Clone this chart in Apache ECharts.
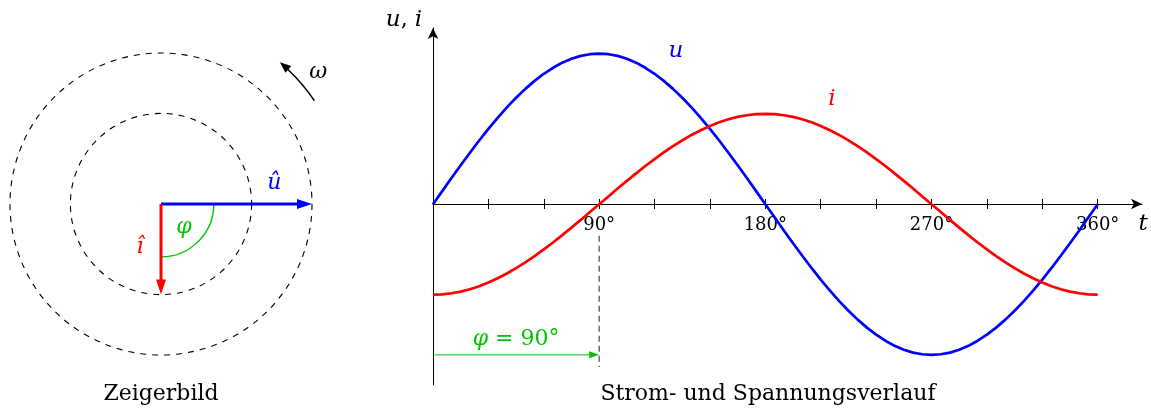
<!DOCTYPE html>
<html>
<head>
<meta charset="utf-8">
<title>Zeigerbild und Strom- und Spannungsverlauf</title>
<script src="https://cdn.jsdelivr.net/npm/echarts@6/dist/echarts.min.js"></script>
<style>
  html, body { margin: 0; padding: 0; background: #ffffff; }
  #chart { width: 1151px; height: 411px; }
</style>
</head>
<body>
<div id="chart"></div>
<script>
// Phase angle of the time axis, sampled every 5 degrees
const angles = [0, 5, 10, 15, 20, 25, 30, 35, 40, 45, 50, 55, 60, 65, 70, 75, 80, 85, 90,
  95, 100, 105, 110, 115, 120, 125, 130, 135, 140, 145, 150, 155, 160, 165, 170, 175, 180,
  185, 190, 195, 200, 205, 210, 215, 220, 225, 230, 235, 240, 245, 250, 255, 260, 265, 270,
  275, 280, 285, 290, 295, 300, 305, 310, 315, 320, 325, 330, 335, 340, 345, 350, 355, 360];
// Voltage u (amplitude 1)
const uValues = [0, 0.087, 0.174, 0.259, 0.342, 0.423, 0.5, 0.574, 0.643, 0.707, 0.766, 0.819, 0.866, 0.906, 0.94, 0.966, 0.985, 0.996, 1,
  0.996, 0.985, 0.966, 0.94, 0.906, 0.866, 0.819, 0.766, 0.707, 0.643, 0.574, 0.5, 0.423, 0.342, 0.259, 0.174, 0.087, 0,
  -0.087, -0.174, -0.259, -0.342, -0.423, -0.5, -0.574, -0.643, -0.707, -0.766, -0.819, -0.866, -0.906, -0.94, -0.966, -0.985, -0.996, -1,
  -0.996, -0.985, -0.966, -0.94, -0.906, -0.866, -0.819, -0.766, -0.707, -0.643, -0.574, -0.5, -0.423, -0.342, -0.259, -0.174, -0.087, 0];
// Current i (amplitude 0.6), lagging u by 90 degrees
const iValues = [-0.6, -0.598, -0.591, -0.58, -0.564, -0.544, -0.52, -0.491, -0.46, -0.424, -0.386, -0.344, -0.3, -0.254, -0.205, -0.155, -0.104, -0.052, 0,
  0.052, 0.104, 0.155, 0.205, 0.254, 0.3, 0.344, 0.386, 0.424, 0.46, 0.491, 0.52, 0.544, 0.564, 0.58, 0.591, 0.598, 0.6,
  0.598, 0.591, 0.58, 0.564, 0.544, 0.52, 0.491, 0.46, 0.424, 0.386, 0.344, 0.3, 0.254, 0.205, 0.155, 0.104, 0.052, 0,
  -0.052, -0.104, -0.155, -0.205, -0.254, -0.3, -0.344, -0.386, -0.424, -0.46, -0.491, -0.52, -0.544, -0.564, -0.58, -0.591, -0.598, -0.6];
// Time axis ticks and labelled ticks (degrees)
const tickValues = [0, 30, 60, 90, 120, 150, 180, 210, 240, 270, 300, 330, 360];
const labelValues = [90, 180, 270, 360];
// Phase shift between u and i (degrees)
const phaseShift = 90;

// Phasor diagram: peak values as pointer lengths, pointer angles in degrees
const phasorNames = ['\u00fb', '\u00ee'];   // û, î
const phasorLengths = [1, 0.6];
const phasorAngles = [0, -90];
// Dashed circles traced by the rotating pointers
const ringRadii = [1, 0.6];
// Direction of rotation (counter-clockwise), degrees
const rotationSweep = [34, 50];

const SERIF = '"DejaVu Serif", serif';
const BLUE = '#0000ff';
const RED = '#ff0000';
const GREEN = '#00c400';
const DEG = Math.PI / 180;

// Value range of the time plot; the time axis sits where the value is zero
const X_MAX = 384;
const Y_MIN = -1.2, Y_MAX = 1.17;
const PLOT_TOP = 28, PLOT_HEIGHT = 357;
const ZERO_OFFSET = -Math.round(PLOT_HEIGHT * (-Y_MIN) / (Y_MAX - Y_MIN));

// Straight arrow from p0 to p1 (pixel coordinates)
function arrow(p0, p1, color, lineWidth, headLen, headHalf) {
  const dx = p1[0] - p0[0], dy = p1[1] - p0[1];
  const len = Math.hypot(dx, dy) || 1;
  const ux = dx / len, uy = dy / len;
  const bx = p1[0] - ux * headLen, by = p1[1] - uy * headLen;
  return [
    { type: 'line', shape: { x1: p0[0], y1: p0[1], x2: bx + ux, y2: by + uy },
      style: { stroke: color, lineWidth: lineWidth } },
    { type: 'polygon',
      shape: { points: [[p1[0], p1[1]], [bx - uy * headHalf, by + ux * headHalf], [bx + uy * headHalf, by - ux * headHalf]] },
      style: { fill: color } }
  ];
}

function textEl(x, y, text, color, size, italic, extra) {
  return {
    type: 'text', x: x, y: y,
    style: Object.assign({
      text: text, fill: color, fontSize: size, fontFamily: SERIF,
      fontStyle: italic ? 'italic' : 'normal', align: 'center', verticalAlign: 'middle'
    }, extra || {})
  };
}

const chart = echarts.init(document.getElementById('chart'), null, { renderer: 'canvas' });

const option = {
  animation: false,
  backgroundColor: '#ffffff',
  title: [
    { text: 'Zeigerbild', left: 161, top: 383, textAlign: 'center', padding: 0,
      textStyle: { fontFamily: SERIF, fontWeight: 'normal', fontSize: 22, color: '#000' } },
    { text: 'Strom- und Spannungsverlauf', left: 768, top: 383, textAlign: 'center', padding: 0,
      textStyle: { fontFamily: SERIF, fontWeight: 'normal', fontSize: 22, color: '#000' } }
  ],
  grid: [
    { left: 10, top: 53, width: 302, height: 302, containLabel: false, outerBoundsMode: 'none' },
    { left: 433, top: PLOT_TOP, width: 709, height: PLOT_HEIGHT, containLabel: false, outerBoundsMode: 'none' }
  ],
  xAxis: [
    { gridIndex: 0, type: 'value', min: -1, max: 1, show: false },
    {
      gridIndex: 1, type: 'value', min: 0, max: X_MAX, position: 'bottom', offset: ZERO_OFFSET,
      axisLine: { show: true, onZero: false, symbol: ['none', 'arrow'], symbolSize: [8, 11],
                  lineStyle: { color: '#000', width: 1 } },
      axisTick: { show: true, inside: false, length: 5, customValues: tickValues,
                  lineStyle: { color: '#000', width: 1 } },
      axisLabel: { show: true, customValues: labelValues, formatter: '{value}°', margin: 12,
                   color: '#000', fontFamily: SERIF, fontSize: 18 },
      splitLine: { show: false }
    },
    {
      gridIndex: 1, type: 'value', min: 0, max: X_MAX, position: 'bottom', offset: ZERO_OFFSET,
      axisLine: { show: false, onZero: false },
      axisTick: { show: true, inside: true, length: 5, customValues: tickValues,
                  lineStyle: { color: '#000', width: 1 } },
      axisLabel: { show: false },
      splitLine: { show: false }
    }
  ],
  yAxis: [
    { gridIndex: 0, type: 'value', min: -1, max: 1, show: false },
    {
      gridIndex: 1, type: 'value', min: Y_MIN, max: Y_MAX, position: 'left',
      axisLine: { show: true, onZero: false, symbol: ['none', 'arrow'], symbolSize: [8, 11],
                  lineStyle: { color: '#000', width: 1 } },
      axisTick: { show: false }, axisLabel: { show: false }, splitLine: { show: false },
      name: '{it|u}, {it|i}', nameLocation: 'end', nameGap: 8, nameMoveOverlap: false,
      nameTextStyle: {
        color: '#000', fontFamily: SERIF, fontSize: 22, align: 'right', verticalAlign: 'middle',
        padding: [0, 11, 0, 0],
        rich: { it: { color: '#000', fontFamily: SERIF, fontSize: 23, fontStyle: 'italic' } }
      }
    }
  ],
  series: [
    // Dashed circles of the phasor diagram
    {
      type: 'custom', xAxisIndex: 0, yAxisIndex: 0, silent: true,
      data: ringRadii.map(r => [r, 0]),
      renderItem: function (params, api) {
        const c = api.coord([0, 0]);
        const r = api.size([api.value(0), 0])[0];
        return { type: 'circle', shape: { cx: c[0], cy: c[1], r: r },
                 style: { fill: null, stroke: '#000', lineWidth: 1.1, lineDash: [6, 6] } };
      }
    },
    // Angle φ between the pointers
    {
      type: 'custom', xAxisIndex: 0, yAxisIndex: 0, silent: true,
      data: [[phaseShift, 0]],
      renderItem: function (params, api) {
        const c = api.coord([0, 0]);
        const unit = api.size([1, 0])[0];
        const phi = api.value(0);
        const r = 0.35 * unit, rl = 0.215 * unit;
        return { type: 'group', children: [
          { type: 'arc', shape: { cx: c[0], cy: c[1], r: r, startAngle: 0, endAngle: phi * DEG, clockwise: true },
            style: { fill: null, stroke: GREEN, lineWidth: 1.4 } },
          textEl(c[0] + rl * Math.cos(phi / 2 * DEG), c[1] + rl * Math.sin(phi / 2 * DEG), '\u03c6', GREEN, 22, true)
        ] };
      }
    },
    // Pointers û and î
    {
      type: 'custom', xAxisIndex: 0, yAxisIndex: 0, silent: true,
      data: phasorLengths.map((L, k) => [L, phasorAngles[k]]),
      renderItem: function (params, api) {
        const L = api.value(0), a = api.value(1) * DEG;
        const c = api.coord([0, 0]);
        const tip = api.coord([L * Math.cos(a), L * Math.sin(a)]);
        const color = params.dataIndex === 0 ? BLUE : RED;
        // label: along the pointer, offset to the side away from the angle φ
        const along = params.dataIndex === 0 ? 0.75 : 0.48;
        const side = params.dataIndex === 0 ? 1 : -1;
        const ux = Math.cos(a), uy = -Math.sin(a);
        const px = c[0] + (tip[0] - c[0]) * along + side * uy * 21;
        const py = c[1] + (tip[1] - c[1]) * along - side * ux * 21;
        return { type: 'group', children: arrow(c, tip, color, 3, 15, 5).concat([
          textEl(px, py, phasorNames[params.dataIndex], color, 22, true)
        ]) };
      }
    },
    // Direction of rotation ω
    {
      type: 'custom', xAxisIndex: 0, yAxisIndex: 0, silent: true,
      data: [[rotationSweep[0], rotationSweep[1]]],
      renderItem: function (params, api) {
        const c = api.coord([0, 0]);
        const unit = api.size([1, 0])[0];
        const R = 1.225 * unit;
        const a0 = api.value(0) * DEG, a1 = api.value(1) * DEG;
        const head = 11, half = 4.5;
        const ex = c[0] + R * Math.cos(a1), ey = c[1] - R * Math.sin(a1);
        const tx = -Math.sin(a1), ty = -Math.cos(a1);
        const bx = ex - tx * head, by = ey - ty * head;
        const aStop = a1 - (head - 1) / R;
        const lx = c[0] + 1.36 * unit * Math.cos(40 * DEG), ly = c[1] - 1.36 * unit * Math.sin(40 * DEG);
        return { type: 'group', children: [
          { type: 'arc', shape: { cx: c[0], cy: c[1], r: R, startAngle: -a0, endAngle: -aStop, clockwise: false },
            style: { fill: null, stroke: '#000', lineWidth: 1.5 } },
          { type: 'polygon', shape: { points: [[ex, ey], [bx - ty * half, by + tx * half], [bx + ty * half, by - tx * half]] },
            style: { fill: '#000' } },
          textEl(lx, ly, '\u03c9', '#000', 22, true)
        ] };
      }
    },
    // Voltage u
    {
      name: 'u', type: 'line', xAxisIndex: 1, yAxisIndex: 1,
      data: angles.map((t, k) => [t, uValues[k]]),
      smooth: false, symbol: 'none', silent: true,
      lineStyle: { color: BLUE, width: 2.7 }, itemStyle: { color: BLUE }, z: 3
    },
    // Current i
    {
      name: 'i', type: 'line', xAxisIndex: 1, yAxisIndex: 1,
      data: angles.map((t, k) => [t, iValues[k]]),
      smooth: false, symbol: 'none', silent: true,
      lineStyle: { color: RED, width: 2.7 }, itemStyle: { color: RED }, z: 3
    },
    // Curve names and the time axis name t
    {
      type: 'custom', xAxisIndex: 1, yAxisIndex: 1, silent: true,
      data: [[131.5, 1.02], [216, 0.7], [384.6, -0.133]],
      renderItem: function (params, api) {
        const p = api.coord([api.value(0), api.value(1)]);
        const k = params.dataIndex;
        const names = ['u', 'i', 't'];
        const colors = [BLUE, RED, '#000'];
        return textEl(p[0], p[1], names[k], colors[k], 23, true);
      }
    },
    // Phase shift marker φ = 90°
    {
      type: 'custom', xAxisIndex: 1, yAxisIndex: 1, silent: true,
      data: [[phaseShift, 0]],
      renderItem: function (params, api) {
        const x = api.value(0);
        const top = api.coord([x, -0.21]);
        const bottom = api.coord([x, -1.08]);
        const a0 = api.coord([0, -1]);
        const a1 = api.coord([x, -1]);
        return { type: 'group', children: [
          { type: 'line', shape: { x1: top[0], y1: top[1], x2: bottom[0], y2: bottom[1] },
            style: { stroke: '#555', lineWidth: 1.3, lineDash: [6, 4] } }
        ].concat(arrow(a0, a1, GREEN, 1, 10, 3.5)).concat([
          textEl((a0[0] + a1[0]) / 2, a0[1] - 16, '{it|\u03c6} = ' + x + '°', GREEN, 22, false,
                 { rich: { it: { fill: GREEN, fontSize: 22, fontFamily: SERIF, fontStyle: 'italic' } } })
        ]) };
      }
    }
  ]
};

chart.setOption(option);
</script>
</body>
</html>
